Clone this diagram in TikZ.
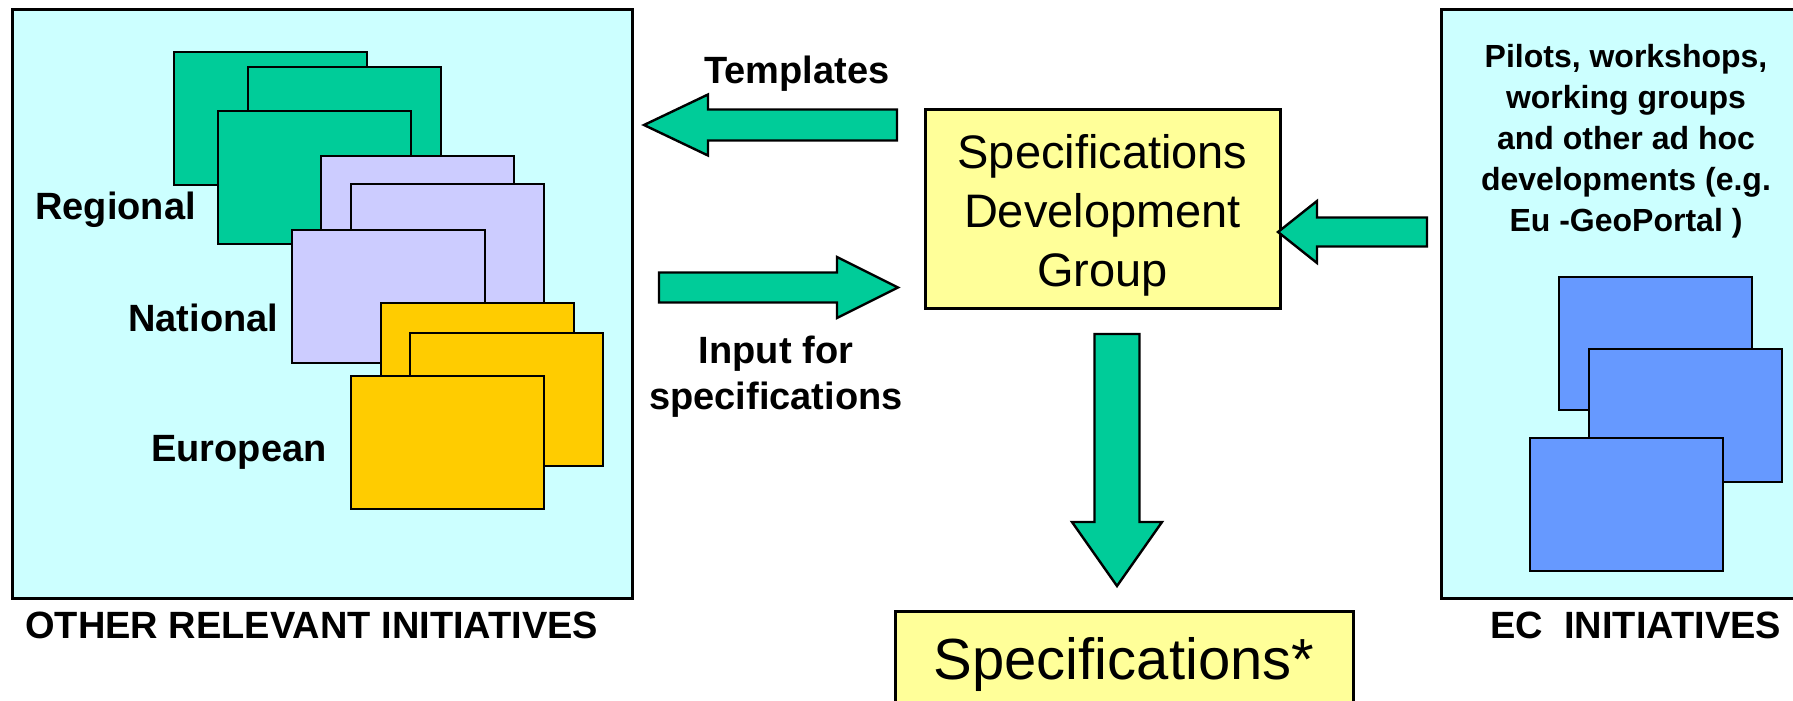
\documentclass[tikz,border=0pt]{standalone}
\usepackage{fontspec}
\setmainfont{Liberation Sans}
\usetikzlibrary{positioning}
\definecolor{initbg}{HTML}{CCFFFF}
\definecolor{regional}{HTML}{00CC99}
\definecolor{national}{HTML}{CCCCFF}
\definecolor{european}{HTML}{FFCC00}
\definecolor{ecblue}{HTML}{6699FF}
\definecolor{sdgyellow}{HTML}{FFFF99}
\tikzset{
    initbox/.style={draw=black, line width=1.5pt, fill=initbg, anchor=north west, inner sep=0pt},
    card/.style={draw=black, line width=1.2pt, anchor=north west, inner sep=0pt, minimum width=96.5pt, minimum height=66.5pt},
    blockarrow/.style={draw=black, line width=1.2pt, fill=regional, line join=miter},
    lbl/.style={font=\bfseries\fontsize{19}{23}\selectfont, inner sep=0pt},
    yellowbox/.style={draw=black, line width=1.5pt, fill=sdgyellow, inner sep=0pt}
}

\begin{document}
\begin{tikzpicture}[x=0.5pt, y=-0.5pt]
    \useasboundingbox (0,0) rectangle (1793,701);
    % frames of the two initiative groups
    \node[initbox, minimum width=310pt, minimum height=294.5pt] (other) at (11,8) {};
    \node[initbox, minimum width=180pt, minimum height=294.5pt] (ec) at (1440,8) {};
    % stacked sheets
    \foreach \nm/\x/\y/\col in {reg1/173/51/regional, reg2/247/66/regional, reg3/217/110/regional,
        nat1/320/155/national, nat2/350/183/national, nat3/291/229/national,
        eur1/380/302/european, eur2/409/332/european, eur3/350/375/european,
        ec1/1558/276/ecblue, ec2/1588/348/ecblue, ec3/1529/437/ecblue}
        \node[card, fill=\col] (\nm) at (\x,\y) {};
    \node[lbl, anchor=base west] (regl) at (35,219) {Regional};
    \node[lbl, anchor=base west] (natl) at (128,331) {National};
    \node[lbl, anchor=base west] (eurl) at (151,461) {European};
    \node[lbl, anchor=base west] (otherl) at (25,638) {OTHER RELEVANT INITIATIVES};
    \node[lbl, anchor=base west] (ecl) at (1490,638) {EC\ \ INITIATIVES};
    \node[inner sep=0pt, align=center, font=\bfseries\fontsize{16}{20.5}\selectfont] (ecdesc) at (1626,141)
        {Pilots, workshops,\\working groups\\and other ad hoc\\developments (e.g.\\Eu -GeoPortal )};
    % central group and result
    \node[yellowbox, minimum width=177.5pt, minimum height=99pt] (sdg) at (1102.5,209) {};
    \node[inner sep=0pt, align=center, font=\fontsize{23.5}{29.5}\selectfont] (sdgl)
        at ([yshift=-3pt]sdg.center) {Specifications\\Development\\Group};
    \node[yellowbox, anchor=north, minimum width=229pt, minimum height=47pt, text depth=0pt,
        font=\fontsize{29}{34}\selectfont] (spec) at (1124,610) {Specifications*};
    % block arrows
    \coordinate (tpltip) at (644,125);
    \coordinate (inptip) at (898,287.5);
    \coordinate (ectip) at (1278,232);
    \coordinate (spectip) at (1117,586);
    \draw[blockarrow] (tpltip) -- ++(64,-30.5) -- ++(0,15) -- ++(189,0) -- ++(0,31) -- ++(-189,0) -- ++(0,15) -- cycle;
    \draw[blockarrow] (inptip) -- ++(-61,-30.5) -- ++(0,15.5) -- ++(-178,0) -- ++(0,30) -- ++(178,0) -- ++(0,15.5) -- cycle;
    \draw[blockarrow] (ectip) -- ++(39,-31) -- ++(0,16.5) -- ++(110,0) -- ++(0,29) -- ++(-110,0) -- ++(0,16.5) -- cycle;
    \draw[blockarrow] (spectip) -- ++(-45,-64) -- ++(22.5,0) -- ++(0,-188) -- ++(45,0) -- ++(0,188) -- ++(22.5,0) -- cycle;
    \node[lbl, anchor=base west] (tpll) at (704,84) {Templates};
    \node[lbl, align=center, anchor=base] (inpl) at (776,409) {Input for\\specifications};
\end{tikzpicture}
\end{document}
